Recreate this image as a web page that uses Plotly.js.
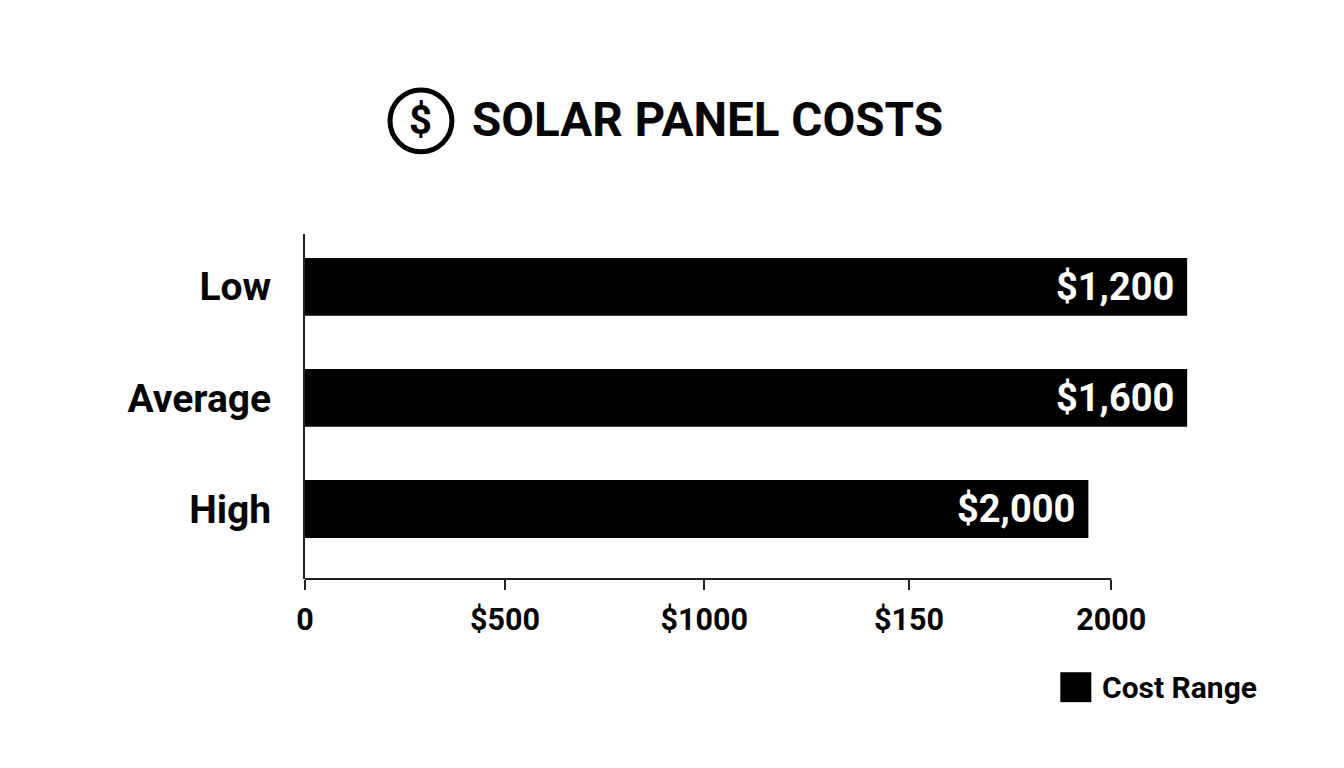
<!DOCTYPE html>
<html>
<head>
<meta charset="utf-8">
<script src="https://cdn.plot.ly/plotly-3.0.1.min.js"></script>
<style>html,body{margin:0;padding:0;background:#fff}#chart{width:1344px;height:768px}</style>
</head>
<body>
<div id="chart"></div>
<script>
const categories = ["Low", "Average", "High"];
const barLengths = [2188, 2188, 1943];
const barLabels = ["$1,200", "$1,600", "$2,000"];
const tickValues = [0, 496, 990, 1498, 2000];
const tickLabels = ["0", "$500", "$1000", "$150", "2000"];
const axisEnd = 2000;
const rangeEnd = 2200;
const seriesName = "Cost Range";
const chartTitle = "SOLAR PANEL COSTS";

const FONT = "Roboto, Arial, sans-serif";
const INK = "#050505";

const W = 1344, H = 768;
const margin = {l: 304.5, r: 152.3, t: 233.5, b: 188.5, pad: 0};
const plotW = W - margin.l - margin.r, plotH = H - margin.t - margin.b;
const px = x => (x - margin.l) / plotW;
const py = y => 1 - (y - margin.t) / plotH;

const trace = {
  type: "bar",
  orientation: "h",
  name: seriesName,
  x: barLengths,
  y: categories,
  width: 0.52,
  marker: {color: "#000000", line: {width: 0}},
  hoverinfo: "skip",
  showlegend: false
};

const labelAnnotations = categories.map((c, i) => ({
  x: barLengths[i], y: c, xref: "x", yref: "y",
  text: barLabels[i], showarrow: false,
  xanchor: "right", yanchor: "middle", xshift: -11,
  font: {family: FONT, size: 38, weight: 700, color: "#ffffff"}
}));

const layout = {
  width: W, height: H,
  margin,
  paper_bgcolor: "#ffffff",
  plot_bgcolor: "#ffffff",
  showlegend: false,
  title: {
    text: chartTitle,
    x: 472 / W, xref: "container", xanchor: "left",
    y: 1 - 119 / H, yref: "container", yanchor: "middle",
    font: {family: FONT, size: 47.6, weight: 700, color: INK}
  },
  xaxis: {
    range: [0, rangeEnd],
    tickmode: "array", tickvals: tickValues, ticktext: tickLabels,
    ticks: "outside", ticklen: 10, tickwidth: 2, tickcolor: "#222",
    showgrid: false, zeroline: false,
    showline: false,
    tickfont: {family: FONT, size: 30.5, weight: 700, color: INK},
    ticklabelstandoff: 3
  },
  yaxis: {
    type: "category",
    categoryorder: "array", categoryarray: categories,
    range: [2.63, -0.475],
    showgrid: false, zeroline: false,
    showline: true, linecolor: "#222", linewidth: 2,
    ticks: "",
    tickfont: {family: FONT, size: 39, weight: 700, color: INK},
    ticklabelstandoff: 24
  },
  shapes: [
    {type: "line", xref: "x", yref: "paper", x0: 0, x1: axisEnd, y0: 0, y1: 0,
     line: {color: "#222", width: 2}},
    {type: "circle", xref: "paper", yref: "paper",
     x0: px(389.5), x1: px(451.5), y0: py(89), y1: py(151),
     line: {color: "#000", width: 5}, fillcolor: "rgba(0,0,0,0)"},
    {type: "rect", xref: "paper", yref: "paper",
     x0: px(1060), x1: px(1091), y0: py(673), y1: py(703),
     line: {width: 0}, fillcolor: "#000"}
  ],
  annotations: labelAnnotations.concat([
    {xref: "paper", yref: "paper", x: px(420.5), y: py(120), text: "$",
     showarrow: false, xanchor: "center", yanchor: "middle",
     font: {family: FONT, size: 40, weight: 700, color: "#000"}},
    {xref: "paper", yref: "paper", x: px(1102), y: py(688), text: seriesName,
     showarrow: false, xanchor: "left", yanchor: "middle", xshift: -2,
     font: {family: FONT, size: 30, weight: 700, color: INK}}
  ])
};

Plotly.newPlot("chart", [trace], layout, {displayModeBar: false, staticPlot: true});
</script>
</body>
</html>
